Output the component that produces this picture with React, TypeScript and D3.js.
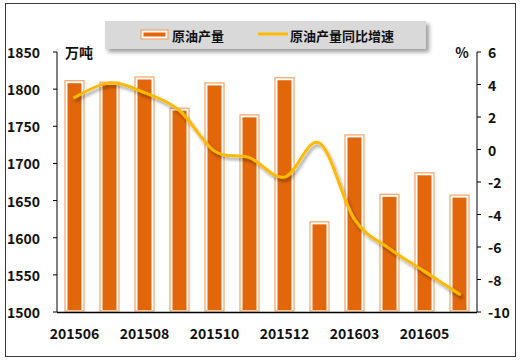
import * as d3 from 'd3';

const months = ['201506', '201507', '201508', '201509', '201510', '201511', '201512', '201602', '201603', '201604', '201605', '201606'];
const output = [1808, 1806, 1813, 1771, 1805, 1762, 1812, 1618, 1735, 1655, 1684, 1654];
const growth = [3.2, 4.1, 3.5, 2.4, -0.1, -0.5, -1.7, 0.4, -4.3, -6.1, -7.5, -8.9];
const leftTicks = [1500, 1550, 1600, 1650, 1700, 1750, 1800, 1850];
const rightTicks = [-10, -8, -6, -4, -2, 0, 2, 4, 6];
const shownMonths = ['201506', '201508', '201510', '201512', '201603', '201605'];

const W = 529;
const H = 362;
const font = '"Noto Sans CJK SC", "Noto Sans", sans-serif';
const barOrange = '#E2660A';
const barEdge = '#F5A468';
const lineGold = '#FFBA00';

export default function App() {
    const x = d3.scaleBand<string>().domain(months).range([57, 477]);
    const yL = d3.scaleLinear().domain([1500, 1850]).range([312, 52]);
    const yR = d3.scaleLinear().domain([-10, 6]).range([312, 52]);

    const line = d3.line<number>()
        .x((d, i) => (x(months[i]) as number) + x.bandwidth() / 2)
        .y(d => yR(d))
        .curve(d3.curveCardinal.tension(0));

    const bw = 19;

    return (
        <svg width={W} height={H} style={{ position: 'absolute', left: 0, top: 0, fontFamily: font }}>
            <defs>
                <filter id="shadow" x="-20%" y="-20%" width="140%" height="160%">
                    <feDropShadow dx="2" dy="3" stdDeviation="1.8" floodColor="#000" floodOpacity="0.35" />
                </filter>
                <filter id="boxShadow" x="-10%" y="-30%" width="120%" height="170%">
                    <feDropShadow dx="3" dy="3" stdDeviation="2" floodColor="#000" floodOpacity="0.4" />
                </filter>
            </defs>
            <rect x={0} y={0} width={W} height={H} fill="#fff" />
            <rect x={5.5} y={3.5} width={510} height={353} fill="#fff" stroke="#3a3a3a" strokeWidth={1} />

            {/* legend */}
            <rect x={105} y={21} width={321} height={28} fill="#D9D9D9" filter="url(#boxShadow)" />
            <rect x={141} y={30} width={27} height={9} fill="#fff" stroke={barEdge} strokeWidth={1.2} />
            <rect x={143.5} y={32.5} width={22} height={4} fill={barOrange} />
            <text x={172} y={35} dominantBaseline="central" fontSize={13} fontWeight="bold" fill="#111">原油产量</text>
            <line x1={258} x2={288} y1={34} y2={34} stroke={lineGold} strokeWidth={3} />
            <text x={290} y={35} dominantBaseline="central" fontSize={13} fontWeight="bold" fill="#111">原油产量同比增速</text>

            {/* bars */}
            {output.map((v, i) => {
                const cx = (x(months[i]) as number) + x.bandwidth() / 2;
                const top = yL(v);
                return (
                    <g key={months[i]}>
                        <rect x={cx - bw / 2} y={top - 2.5} width={bw} height={312 - top + 1.5} fill="#fff" stroke={barEdge} strokeWidth={1.2} />
                        <rect x={cx - bw / 2 + 2.5} y={top} width={bw - 5} height={312 - top - 2} fill={barOrange} />
                    </g>
                );
            })}

            {/* line */}
            <path d={line(growth) || ''} fill="none" stroke={lineGold} strokeWidth={3} strokeLinecap="round" filter="url(#shadow)" />

            {/* axes */}
            <line x1={57} x2={57} y1={52} y2={312} stroke="#000" strokeWidth={1} />
            <line x1={477} x2={477} y1={52} y2={312} stroke="#000" strokeWidth={1} />
            <line x1={57} x2={477} y1={312.5} y2={312.5} stroke="#000" strokeWidth={1.5} />
            {leftTicks.map(t => (
                <g key={'l' + t}>
                    <line x1={53} x2={57} y1={yL(t)} y2={yL(t)} stroke="#000" />
                    <text x={40} y={yL(t)} textAnchor="end" dominantBaseline="central" fontSize={14} fontWeight="bold" fill="#111">{t}</text>
                </g>
            ))}
            {rightTicks.map(t => (
                <g key={'r' + t}>
                    <line x1={477} x2={481} y1={yR(t)} y2={yR(t)} stroke="#000" />
                    <text x={488} y={yR(t)} textAnchor="start" dominantBaseline="central" fontSize={14} fontWeight="bold" fill="#111">{t}</text>
                </g>
            ))}
            {shownMonths.map(m => (
                <text key={m} x={(x(m) as number) + x.bandwidth() / 2} y={333} textAnchor="middle" dominantBaseline="central" fontSize={14} fontWeight="bold" fill="#111">{m}</text>
            ))}
            <text x={65} y={52} dominantBaseline="central" fontSize={14} fontWeight="bold" fill="#111">万吨</text>
            <text x={462} y={52} textAnchor="middle" dominantBaseline="central" fontSize={14} fontWeight="bold" fill="#111">%</text>
        </svg>
    );
}
